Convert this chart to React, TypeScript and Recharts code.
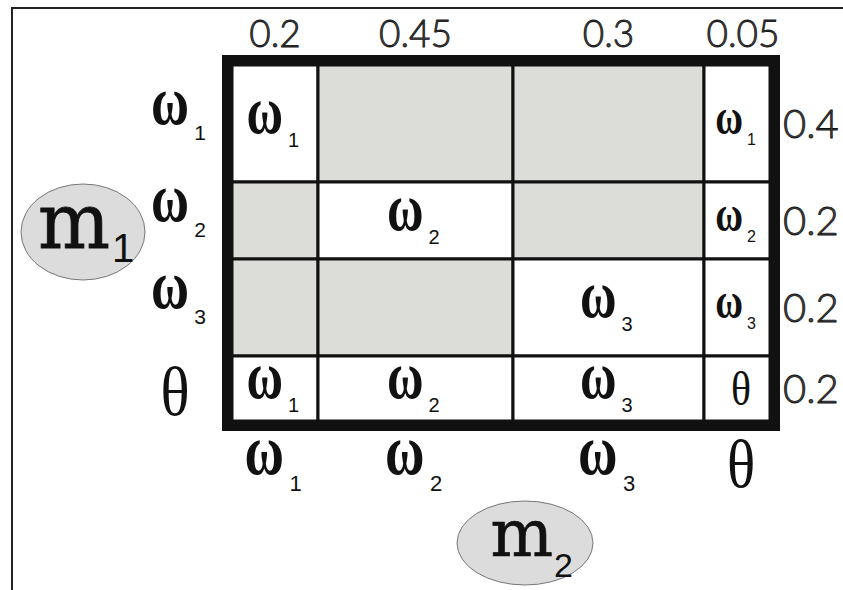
import React from 'react';
import { ComposedChart, XAxis, YAxis, ReferenceArea, Scatter } from 'recharts';

// m2 focal elements (columns) with their masses
const m2Sets = ['ω1', 'ω2', 'ω3', 'θ'];
const m2Masses = ['0.2', '0.45', '0.3', '0.05'];

// m1 focal elements (rows) with their masses
const m1Sets = ['ω1', 'ω2', 'ω3', 'θ'];
const m1Masses = ['0.4', '0.2', '0.2', '0.2'];

// drawn width of each column and height of each row
const colSpans = [0.86, 1.95, 1.91, 0.66];
const rowSpans = [1.17, 0.77, 0.97, 0.65];

// intersection of row set and column set, '' means empty (conflict, grey)
const cellSets = [
  ['ω1', '', '', 'ω1'],
  ['', 'ω2', '', 'ω2'],
  ['', '', 'ω3', 'ω3'],
  ['ω1', 'ω2', 'ω3', 'θ'],
];

const W = 843;
const H = 590;
const GREY = '#dcddd9';
const SERIF = '"Liberation Serif", "Times New Roman", serif';
const SANS = '"Liberation Sans", Arial, sans-serif';
const THIN = 'Lato, "Open Sans", sans-serif';
const SLAB = '"DejaVu Serif", serif';

const edges = (spans: number[]) => {
  const out = [0];
  spans.forEach((s) => out.push(out[out.length - 1] + s));
  return out;
};
const colEdges = edges(colSpans);
const rowEdges = edges(rowSpans);
const colCenters = colSpans.map((s, i) => colEdges[i] + s / 2);
const rowCenters = rowSpans.map((s, i) => rowEdges[i] + s / 2);
const totalCols = colEdges[colEdges.length - 1];
const totalRows = rowEdges[rowEdges.length - 1];

const cellPoints = cellSets.flatMap((row, r) =>
  row.map((label, c) => ({ x: colCenters[c], y: rowCenters[r], label, small: colSpans[c] < 0.7 }))
).filter((p) => p.label !== '');

// symbol with subscript: omega ends at x, subscript just after it
const Sym = ({ x, y, label, size, subSize, subDy, thetaSize, thetaDy }: any) => {
  if (label === 'θ') {
    return (
      <text transform={`translate(${x},${y + thetaDy}) scale(0.95,1.08)`} textAnchor="middle"
        fontFamily={SERIF} fontSize={thetaSize} fill="#111">θ</text>
    );
  }
  return (
    <g>
      <text transform={`translate(${x},${y}) scale(1,1.35)`} textAnchor="end" fontFamily={SERIF}
        fontWeight="bold" fontSize={size} fill="#111">
        {label[0]}
      </text>
      <text x={x + subSize * 0.25} y={y + subDy} fontFamily={SANS} fontSize={subSize} fill="#111">
        {label.slice(1)}
      </text>
    </g>
  );
};

const TopTick = ({ x, y, index }: any) => (
  <text x={x + (index === 3 ? 6 : 0)} y={y - 18} textAnchor="middle" fontFamily={THIN} fontWeight={300}
    fontSize={37} fill="#444" stroke="#111" strokeWidth={0.8}>
    {m2Masses[index]}
  </text>
);

const RightTick = ({ x, y, index }: any) => (
  <text x={x + 13} y={y + 14} fontFamily={THIN} fontWeight={300} fontSize={40}
    fill="#444" stroke="#111" strokeWidth={0.8}>
    {m1Masses[index]}
  </text>
);

const LeftTick = ({ x, y, index }: any) => {
  const label = m1Sets[index];
  if (label === 'θ') return <Sym x={x - 57} y={y} label={label} thetaSize={64} thetaDy={26} />;
  return <Sym x={x - 43} y={y} label={label} size={52} subSize={21} subDy={16} />;
};

const BottomTick = ({ x, y, index }: any) => {
  const label = m2Sets[index];
  if (label === 'θ') return <Sym x={x + 4} y={y} label={label} thetaSize={62} thetaDy={66} />;
  return <Sym x={x + 9} y={y + 53} label={label} size={54} subSize={22} subDy={17} />;
};

const CellLabel = ({ cx, cy, payload }: any) => {
  if (payload.small) {
    if (payload.label === 'θ') return <Sym x={cx + 4} y={cy} label="θ" thetaSize={44} thetaDy={16} />;
    return <Sym x={cx + 6} y={cy + 10} label={payload.label} size={38} subSize={16} subDy={11} />;
  }
  return <Sym x={cx + 8} y={cy + 9} label={payload.label} size={50} subSize={20} subDy={14} />;
};

const Border = ({ x, y, width, height }: any) => (
  <rect x={x - 5} y={y - 5} width={width + 10} height={height + 10} fill="none" stroke="#111" strokeWidth={10} />
);

export default function App() {
  return (
    <div style={{ position: 'absolute', left: 0, top: 0, width: W, height: H, background: '#fff', overflow: 'hidden' }}>
      <svg width={W} height={H} style={{ position: 'absolute', left: 0, top: 0 }}>
        <path d={`M12,${H} L12,8 L${W},8`} fill="none" stroke="#222" strokeWidth={2} />
        <ellipse cx={83} cy={232} rx={62} ry={48} fill="#dcdcdc" stroke="#777" strokeWidth={1} />
        <text x={110} y={248} textAnchor="end" fontFamily={SLAB} fontSize={76} fill="#111"
          stroke="#111" strokeWidth={0.8}>m</text>
        <text x={112} y={262} fontFamily={SANS} fontSize={40} fill="#111">1</text>
        <ellipse cx={525} cy={543} rx={68} ry={42} fill="#dcdcdc" stroke="#777" strokeWidth={1} />
        <text x={553} y={556} textAnchor="end" fontFamily={SLAB} fontSize={66} fill="#111"
          stroke="#111" strokeWidth={0.7}>m</text>
        <text x={554} y={577} fontFamily={SANS} fontSize={34} fill="#111">2</text>
      </svg>
      <div style={{ position: 'absolute', left: 0, top: 0 }}>
        <ComposedChart width={W} height={H} margin={{ top: 0, right: 0, bottom: 0, left: 0 }}>
          <XAxis xAxisId="top" orientation="top" type="number" dataKey="x" domain={[0, totalCols]}
            ticks={colCenters} interval={0} height={65} axisLine={false} tickLine={false}
            tickSize={0} tickMargin={0} tick={<TopTick />} allowDataOverflow />
          <XAxis xAxisId="bottom" orientation="bottom" type="number" dataKey="x" domain={[0, totalCols]}
            ticks={colCenters} interval={0} height={169} axisLine={false} tickLine={false}
            tickSize={0} tickMargin={0} tick={<BottomTick />} allowDataOverflow />
          <YAxis yAxisId="left" orientation="left" type="number" domain={[0, totalRows]} reversed
            ticks={rowCenters} interval={0} width={232} axisLine={false} tickLine={false}
            tickSize={0} tickMargin={0} tick={<LeftTick />} allowDataOverflow />
          <YAxis yAxisId="right" orientation="right" type="number" domain={[0, totalRows]} reversed
            ticks={rowCenters} interval={0} width={73} axisLine={false} tickLine={false}
            tickSize={0} tickMargin={0} tick={<RightTick />} allowDataOverflow />
          {cellSets.map((row, r) =>
            row.map((label, c) => (
              <ReferenceArea key={`cell-${r}-${c}`} xAxisId="bottom" yAxisId="left"
                x1={colEdges[c]} x2={colEdges[c + 1]} y1={rowEdges[r]} y2={rowEdges[r + 1]}
                fill={label === '' ? GREY : '#fff'} fillOpacity={1} stroke="#111" strokeWidth={3}
                ifOverflow="visible" />
            ))
          )}
          <ReferenceArea xAxisId="bottom" yAxisId="left" x1={0} x2={totalCols} y1={0} y2={totalRows}
            shape={<Border />} ifOverflow="visible" />
          <Scatter xAxisId="bottom" yAxisId="left" data={cellPoints} dataKey="y"
            shape={<CellLabel />} isAnimationActive={false} />
        </ComposedChart>
      </div>
    </div>
  );
}
